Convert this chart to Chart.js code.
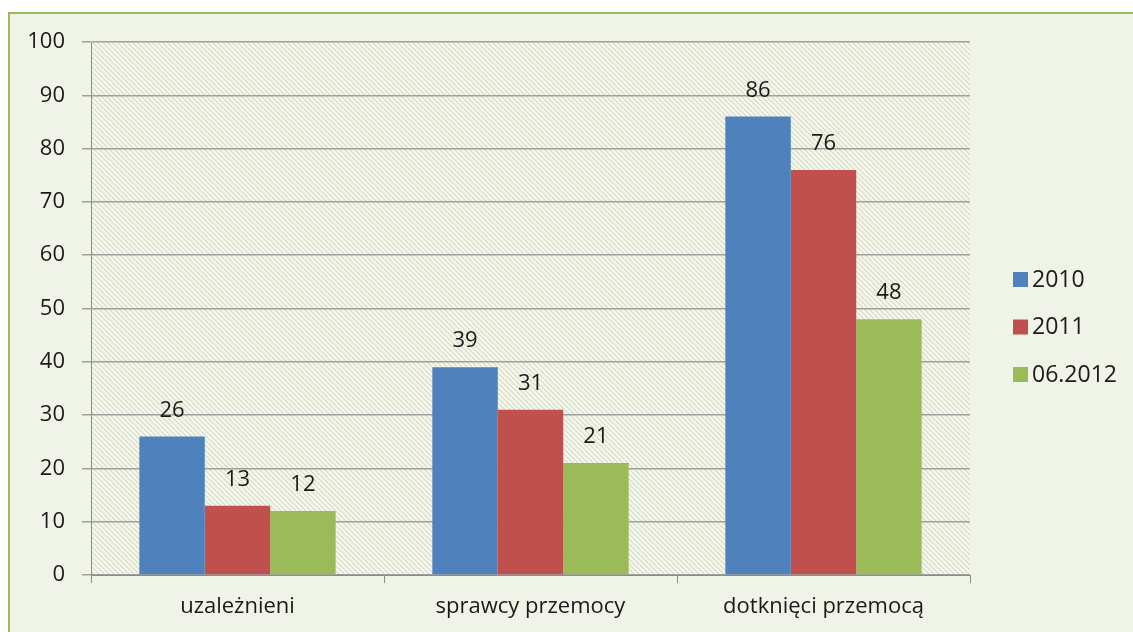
<!DOCTYPE html>
<html>
<head>
<meta charset="utf-8">
<script src="https://cdn.jsdelivr.net/npm/chart.js@4.4.1/dist/chart.umd.min.js"></script>
<style>
  html, body { margin: 0; padding: 0; background: #ffffff; }
  #wrap { position: absolute; left: 0; top: 0; width: 1133px; height: 632px; }
</style>
</head>
<body>
<div id="wrap"><canvas id="chart" width="1133" height="632"></canvas></div>
<script>
// Data
const categories = ["uzależnieni", "sprawcy przemocy", "dotknięci przemocą"];
const series2010 = [26, 39, 86];
const series2011 = [13, 31, 76];
const series2012 = [12, 21, 48];
const seriesLabels = ["2010", "2011", "06.2012"];
const seriesColors = ["#4f81bd", "#c0504d", "#9bbb59"];

const FONT = "'Open Sans', Lato, sans-serif";
const FONT_SIZE = 22;
const TEXT_COLOR = "#1a1a1a";

// Diagonal hatch for the plot area
function makeHatch(ctx) {
    const p = document.createElement("canvas");
    p.width = 5;
    p.height = 5;
    const pc = p.getContext("2d");
    pc.fillStyle = "#f6f8f0";
    pc.fillRect(0, 0, 5, 5);
    pc.strokeStyle = "#d3dcc0";
    pc.lineWidth = 1.2;
    pc.beginPath();
    pc.moveTo(-1, -1); pc.lineTo(6, 6);
    pc.moveTo(-1, 4); pc.lineTo(1, 6);
    pc.moveTo(4, -1); pc.lineTo(6, 1);
    pc.stroke();
    return ctx.createPattern(p, "repeat");
}

// Outer box and hatched plot background
const backgroundPlugin = {
    id: "background",
    beforeDraw(chart) {
        const ctx = chart.ctx;
        const a = chart.chartArea;
        ctx.save();
        ctx.fillStyle = "#ffffff";
        ctx.fillRect(0, 0, chart.width, chart.height);
        ctx.fillStyle = "#f0f3e7";
        ctx.fillRect(9, 13, chart.width, chart.height);
        ctx.strokeStyle = "#9bbb59";
        ctx.lineWidth = 2;
        ctx.beginPath();
        ctx.moveTo(9, chart.height + 5);
        ctx.lineTo(9, 13);
        ctx.lineTo(chart.width + 5, 13);
        ctx.stroke();
        ctx.fillStyle = makeHatch(ctx);
        ctx.fillRect(a.left, a.top, a.right - a.left, a.bottom - a.top);
        ctx.restore();
    }
};

// Value labels above the bars and the legend on the right
const labelsPlugin = {
    id: "valueLabels",
    afterDatasetsDraw(chart) {
        const ctx = chart.ctx;
        ctx.save();
        ctx.font = FONT_SIZE + "px " + FONT;
        ctx.fillStyle = TEXT_COLOR;
        ctx.textAlign = "center";
        ctx.textBaseline = "middle";
        chart.data.datasets.forEach((ds, i) => {
            chart.getDatasetMeta(i).data.forEach((bar, j) => {
                ctx.fillText(String(ds.data[j]), bar.x, bar.y - 26);
            });
        });

        ctx.font = "23px " + FONT;
        ctx.textAlign = "left";
        seriesLabels.forEach((label, i) => {
            const y = 279 + i * 47.5;
            ctx.fillStyle = seriesColors[i];
            ctx.fillRect(1013, y - 7, 15, 15);
            ctx.fillStyle = TEXT_COLOR;
            ctx.fillText(label, 1032, y + 1);
        });
        ctx.restore();
    }
};

new Chart(document.getElementById("chart"), {
    type: "bar",
    data: {
        labels: categories,
        datasets: [
            { label: seriesLabels[0], data: series2010, backgroundColor: seriesColors[0] },
            { label: seriesLabels[1], data: series2011, backgroundColor: seriesColors[1] },
            { label: seriesLabels[2], data: series2012, backgroundColor: seriesColors[2] },
        ],
    },
    options: {
        responsive: false,
        animation: false,
        devicePixelRatio: 1,
        datasets: { bar: { categoryPercentage: 0.67, barPercentage: 1.0 } },
        layout: { padding: { top: 42, right: 163, left: 0, bottom: 0 } },
        plugins: { legend: { display: false }, tooltip: { enabled: false } },
        scales: {
            x: {
                grid: { drawOnChartArea: false, drawTicks: true, tickLength: 8, color: "#8c8c8c", lineWidth: 1 },
                border: { color: "#8c8c8c", width: 1 },
                ticks: { color: TEXT_COLOR, font: { family: FONT, size: FONT_SIZE }, padding: 11 },
                afterFit(scale) { scale.height = 57; },
            },
            y: {
                min: 0,
                max: 100,
                ticks: { stepSize: 10, color: TEXT_COLOR, font: { family: FONT, size: FONT_SIZE }, padding: 17 },
                grid: { color: "#a0a0a0", lineWidth: 1.5, tickLength: 9 },
                border: { color: "#8c8c8c", width: 1 },
                afterFit(scale) { scale.width = 91; },
            },
        },
    },
    plugins: [backgroundPlugin, labelsPlugin],
});
</script>
</body>
</html>
